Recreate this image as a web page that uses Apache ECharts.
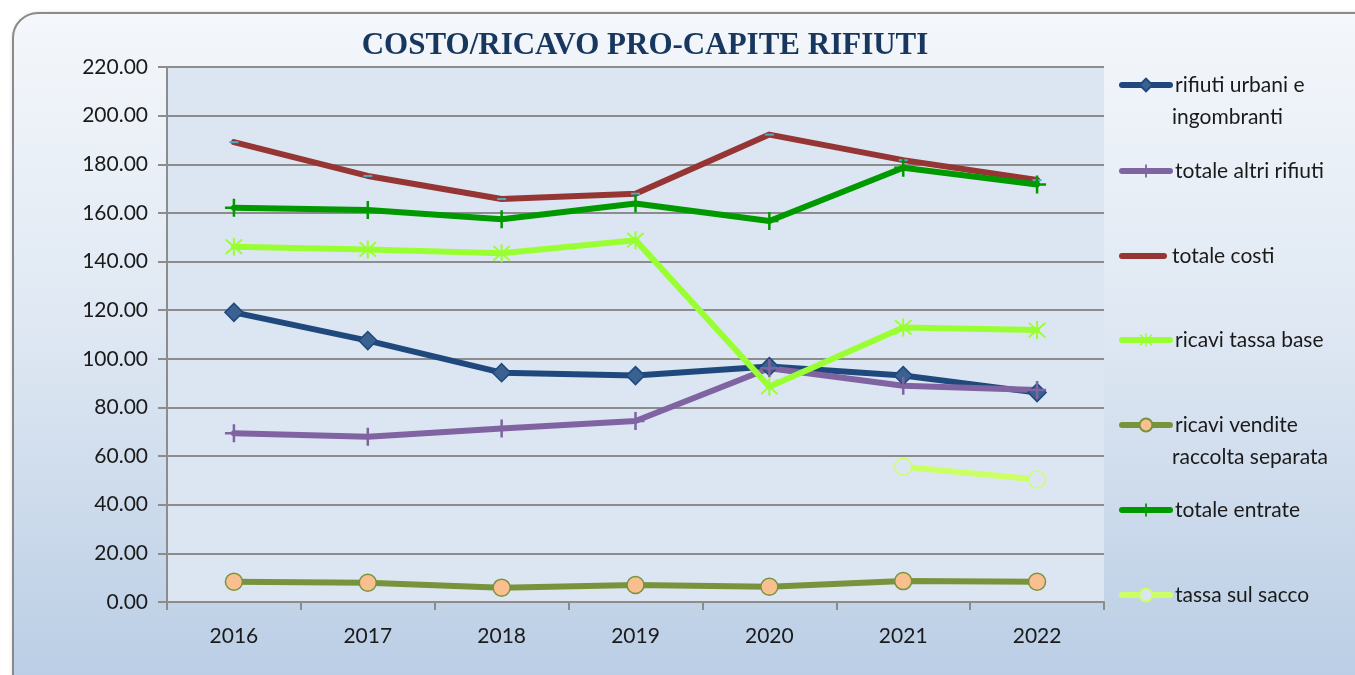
<!DOCTYPE html>
<html>
<head>
<meta charset="utf-8">
<script src="https://cdn.jsdelivr.net/npm/echarts@6/dist/echarts.min.js"></script>
<style>
  html, body { margin: 0; padding: 0; width: 1355px; height: 675px; overflow: hidden; background: #fff; }
  #frame {
    position: absolute; left: 12px; top: 12px; width: 1370px; height: 690px;
    border: 2px solid #8a8a8a; border-radius: 26px;
    background: linear-gradient(to bottom, #f4f7fb 0%, #dfe8f3 45%, #b8cce4 100%);
    box-shadow: 2px 2px 5px rgba(0,0,0,0.35);
  }
  #chart { position: absolute; left: 0; top: 0; width: 1355px; height: 675px; }
</style>
</head>
<body>
<div id="frame"></div>
<div id="chart"></div>
<script>
const years = ["2016", "2017", "2018", "2019", "2020", "2021", "2022"];
const rifiutiUrbani = [119.1, 107.5, 94.3, 93.1, 96.8, 93.1, 86.1];
const altriRifiuti = [69.4, 68.0, 71.3, 74.4, 96.1, 88.9, 87.2];
const totaleCosti = [189.1, 175.2, 165.7, 167.9, 192.2, 181.7, 173.5];
const tassaBase = [146.1, 145.0, 143.4, 148.8, 88.5, 112.9, 111.8];
const venditeSeparata = [8.3, 7.9, 5.9, 7.0, 6.3, 8.6, 8.3];
const totaleEntrate = [162.1, 161.2, 157.4, 163.9, 156.7, 178.6, 171.7];
const tassaSacco = [null, null, null, null, null, 55.6, 50.4];

const plusPath = "path://M4.3,0 L5.7,0 L5.7,4.3 L10,4.3 L10,5.7 L5.7,5.7 L5.7,10 L4.3,10 L4.3,5.7 L0,5.7 L0,4.3 L4.3,4.3 Z";
const starPath = "path://M4.5,0 L5.5,0 L5.5,10 L4.5,10 Z M0.6,1.3 L1.3,0.6 L9.4,8.7 L8.7,9.4 Z M9.4,1.3 L8.7,0.6 L0.6,8.7 L1.3,9.4 Z";
const barIcon = "path://M3,0 L45,0 A3,3 0 0 1 45,6 L3,6 A3,3 0 0 1 3,0 Z";

const chart = echarts.init(document.getElementById("chart"));

function line(name, data, color, symbol, size, fill, border) {
  return {
    name, type: "line", data,
    symbol, symbolSize: size,
    lineStyle: { color, width: 6, cap: "round", join: "round" },
    itemStyle: { color: fill || color, borderColor: border || color, borderWidth: border ? 1.5 : 0 },
    showAllSymbol: true,
    z: 3
  };
}

// name, y of icon, text shown next to the icon, second text line
const legendItems = [
  ["rifiuti urbani e ingombranti", 85, "rifiuti urbani e", "ingombranti"],
  ["totale altri rifiuti", 171],
  ["totale costi", 256],
  ["ricavi tassa base", 340],
  ["ricavi vendite raccolta separata", 425, "ricavi vendite", "raccolta separata"],
  ["totale entrate", 510],
  ["tassa sul sacco", 595]
];

const labelFont = { fontFamily: "Lato", fontSize: 21, color: "#1a1a1a" };

chart.setOption({
  animation: false,
  title: {
    text: "COSTO/RICAVO PRO-CAPITE RIFIUTI",
    left: 640, top: 25, textAlign: "center",
    textStyle: { fontFamily: "Liberation Serif", fontWeight: "bold", fontSize: 31, color: "#17375e" }
  },
  legend: legendItems.map(([name, y, first]) => ({
    data: name === "totale costi"
      ? [{ name, icon: barIcon, itemStyle: { color: "#963634", borderWidth: 0 } }]
      : [name],
    left: 1119, top: y - 12, padding: 0,
    itemWidth: 48, itemHeight: 16,
    lineStyle: { width: 6, cap: "round" },
    formatter: () => first || name,
    textStyle: Object.assign({ lineHeight: 24 }, labelFont)
  })),
  graphic: legendItems.filter(d => d[3]).map(([name, y, first, second]) => ({
    type: "text", left: 1172, top: y + 32 - 12,
    style: { text: second, lineHeight: 24, font: "21px Lato", fill: "#1a1a1a" }
  })),
  grid: { left: 167, top: 67, right: 251, bottom: 73, show: true, backgroundColor: "#dce6f2", borderWidth: 0 },
  xAxis: {
    type: "category", data: years, boundaryGap: true,
    axisLine: { lineStyle: { color: "#8c8c8c", width: 2 } },
    axisTick: { show: true, length: 8, lineStyle: { color: "#8c8c8c", width: 2 } },
    axisLabel: Object.assign({ margin: 24 }, labelFont)
  },
  yAxis: {
    type: "value", min: 0, max: 220, interval: 20,
    axisLine: { show: true, lineStyle: { color: "#8c8c8c", width: 2 } },
    axisTick: { show: true, length: 9, lineStyle: { color: "#8c8c8c", width: 2 } },
    axisLabel: Object.assign({ margin: 19, formatter: v => v.toFixed(2) }, labelFont),
    splitLine: { lineStyle: { color: "#8c8c8c", width: 2 } }
  },
  series: [
    line("rifiuti urbani e ingombranti", rifiutiUrbani, "#1f497d", "diamond", 18, "#3a6190", "#1f497d"),
    line("totale altri rifiuti", altriRifiuti, "#8064a2", plusPath, 18),
    line("totale costi", totaleCosti, "#963634", "rect", [9, 2], "#4bacc6"),
    line("ricavi tassa base", tassaBase, "#99ff33", starPath, 18),
    line("ricavi vendite raccolta separata", venditeSeparata, "#77933c", "circle", 17, "#fabf8f", "#77933c"),
    line("totale entrate", totaleEntrate, "#009900", plusPath, 18),
    line("tassa sul sacco", tassaSacco, "#ccff66", "circle", 17, "#dce6f2", "#ccff66")
  ]
});
</script>
</body>
</html>
